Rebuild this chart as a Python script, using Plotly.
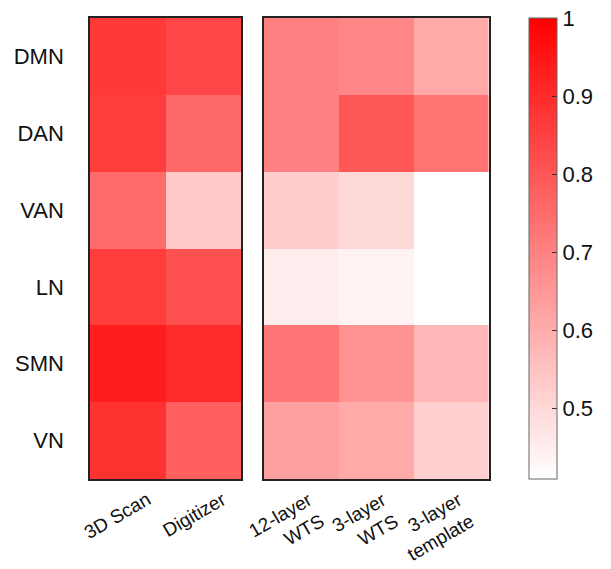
import plotly.graph_objects as go
from plotly.subplots import make_subplots

networks = ["DMN", "DAN", "VAN", "LN", "SMN", "VN"]
left_methods = ["3D Scan", "Digitizer"]
right_methods = ["12-layer<br>WTS", "3-layer<br>WTS", "3-layer<br>template"]

# rows follow networks, columns follow methods
left_values = [
    [0.87, 0.835],
    [0.86, 0.76],
    [0.755, 0.535],
    [0.86, 0.815],
    [0.93, 0.90],
    [0.885, 0.78],
]
right_values = [
    [0.705, 0.69, 0.61],
    [0.705, 0.80, 0.735],
    [0.525, 0.50, 0.40],
    [0.455, 0.44, 0.40],
    [0.73, 0.66, 0.58],
    [0.63, 0.61, 0.52],
]

zmin, zmax = 0.41, 1.0
cbar_ticks = [0.5, 0.6, 0.7, 0.8, 0.9, 1.0]
cbar_labels = ["0.5", "0.6", "0.7", "0.8", "0.9", "1"]

colorscale = [[0, "rgb(255,255,255)"], [1, "rgb(255,0,0)"]]
FONT = "Liberation Sans, Arial, sans-serif"

W, H = 611, 569
ml, mr, mt, mb = 90, 114, 18, 90
pw = W - ml - mr

fig = make_subplots(rows=1, cols=2, shared_yaxes=False)

fig.add_trace(go.Heatmap(
    z=left_values, x=left_methods, y=networks,
    zmin=zmin, zmax=zmax, colorscale=colorscale, showscale=False,
), row=1, col=1)

fig.add_trace(go.Heatmap(
    z=right_values, x=right_methods, y=networks,
    zmin=zmin, zmax=zmax, colorscale=colorscale, showscale=True,
    colorbar=dict(
        x=(538 - ml) / pw, xanchor="left", xref="paper",
        y=0.5, yanchor="middle", len=1.0, lenmode="fraction",
        thickness=28, thicknessmode="pixels",
        outlinecolor="#666", outlinewidth=1,
        ticks="inside", ticklen=5, tickcolor="#333", tickwidth=1,
        tickvals=cbar_ticks, ticktext=cbar_labels,
        tickfont=dict(family=FONT, size=22, color="#111"),
        xpad=0, ypad=0,
    ),
), row=1, col=2)

axis_common = dict(showline=True, mirror=True, linecolor="#222", linewidth=1.5,
                   showgrid=False, zeroline=False, automargin=False)

fig.update_layout(
    width=W, height=H,
    margin=dict(l=ml, r=mr, t=mt, b=mb),
    paper_bgcolor="white", plot_bgcolor="white",
    font=dict(family=FONT, size=22, color="#111"),
    xaxis=dict(domain=[0, (244 - ml) / pw], ticks="", showticklabels=False,
               range=[-0.5, len(left_methods) - 0.5], autorange=False,
               **axis_common),
    xaxis2=dict(domain=[(267 - ml) / pw, (497 - ml) / pw], ticks="",
                showticklabels=False,
                range=[-0.5, len(right_methods) - 0.5], autorange=False,
                **axis_common),
    yaxis=dict(range=[len(networks) - 0.5, -0.5], autorange=False,
               ticks="", ticklabelstandoff=20,
               tickfont=dict(size=22), **axis_common),
    yaxis2=dict(range=[len(networks) - 0.5, -0.5], autorange=False,
                showticklabels=False, ticks="", **axis_common),
)

# rotated, right-aligned category labels placed on the category axes
for xref, cats in (("x", left_methods), ("x2", right_methods)):
    for c in cats:
        fig.add_annotation(
            x=c, xref=xref, y=0, yref="paper",
            text=c, showarrow=False, textangle=-30, align="right",
            xanchor="right", yanchor="top", xshift=28, yshift=-8,
            borderpad=0,
            font=dict(family=FONT, size=19, color="#111"),
        )

fig.write_html("out.html")
